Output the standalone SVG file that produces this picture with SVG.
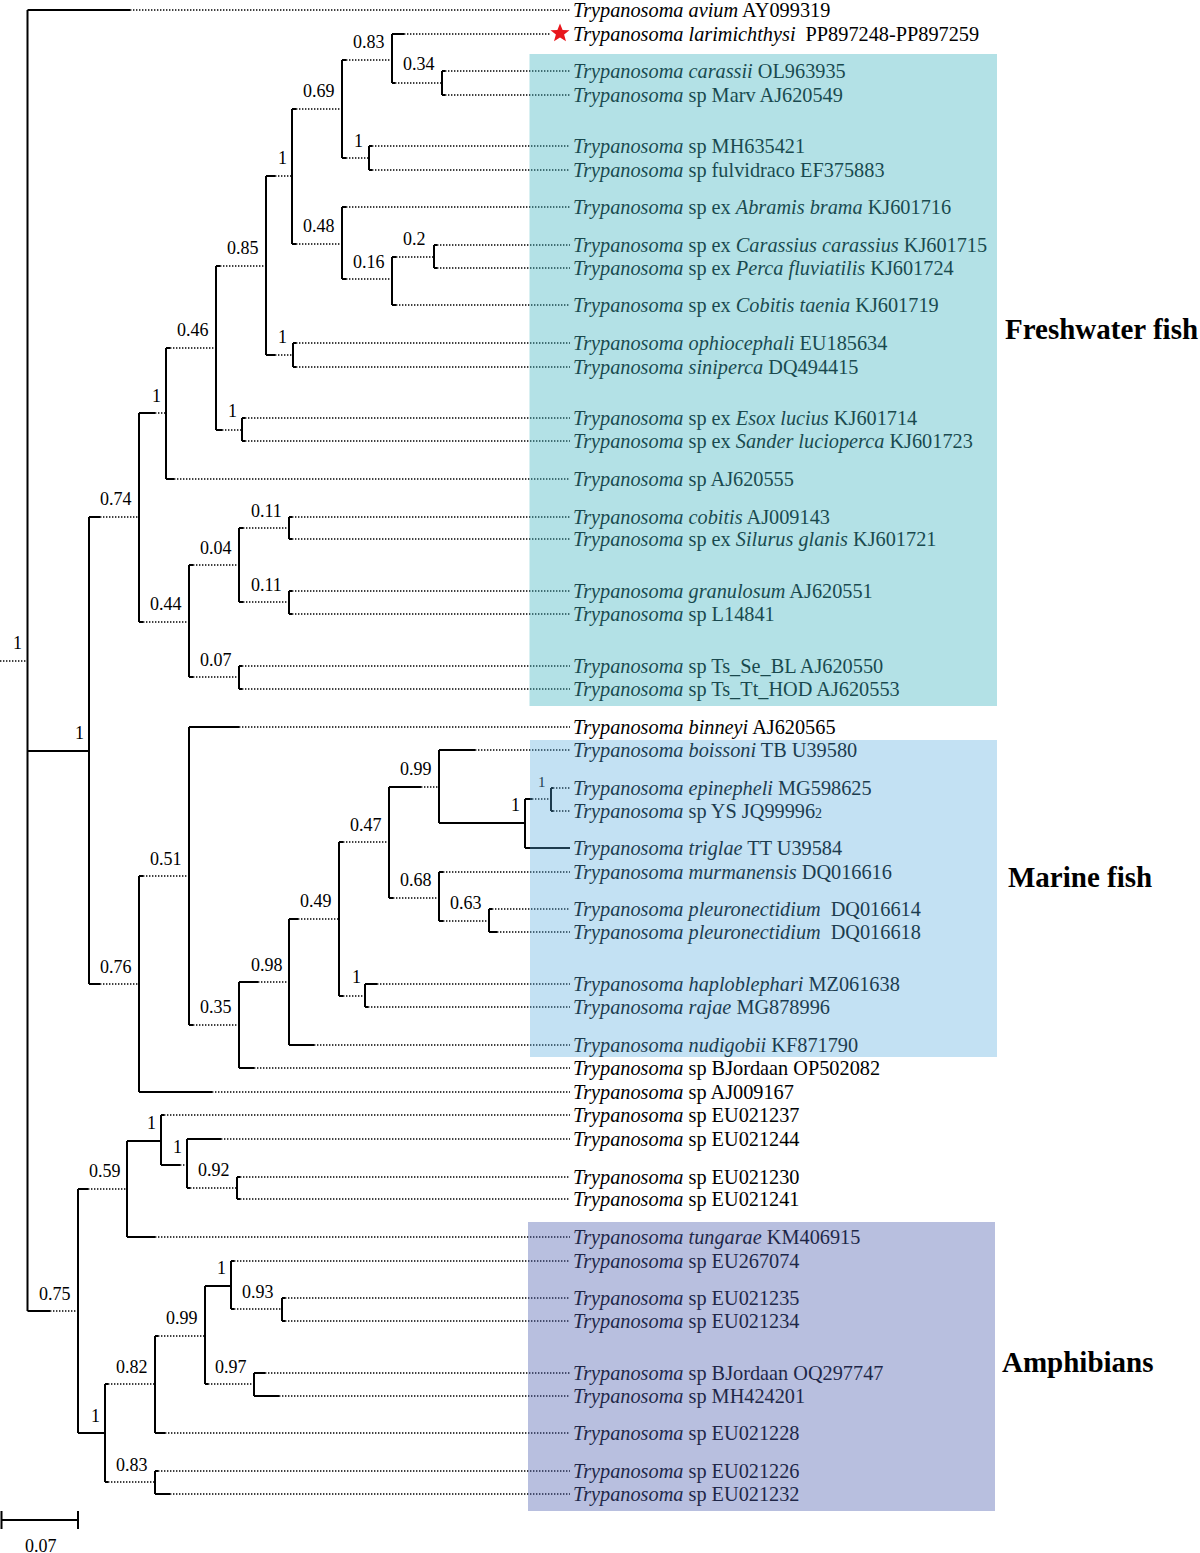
<svg xmlns="http://www.w3.org/2000/svg" width="1200" height="1553" viewBox="0 0 1200 1553">
<style>
text{font-family:"Liberation Serif","Times New Roman",serif;fill:#000}
.tip{font-size:20.3px}
.i{font-style:italic}
.sv{font-size:18px}
.grp{font-size:29px;font-weight:bold}
.v{stroke:#000;stroke-width:2;fill:none}
.s{stroke:#000;stroke-width:2;fill:none}
.d{stroke:#000;stroke-width:1.5;fill:none;stroke-dasharray:1.4 1.6}
</style>
<rect width="1200" height="1553" fill="#fff"/>
<g id="connectors">
<path class="v" d="M27.5 10V1311M89 517V984M139 413V622M166 348V479M216 266V430M266 176V355M292 109V244M342 60V158M392 34V83M442 71V95M369 146V170M342 207V279M392 257V305M434 245V268M293 343V367M242 418V441M189 565V677M239 528V602M289 517V539M289 591V614M239 666V689M139 876V1092M189 727V1025M239 982V1068M289 919V1045M339 842V996M365 984V1007M389 787V898M439 750V823M525 799V848M551 788V811M439 872V921M489 909V932M78 1189V1433M127 1141V1237M161 1115V1165M187 1139V1188M237 1177V1199M105 1384V1482M155 1336V1433M205 1286V1384M231 1261V1309M282 1298V1321M254 1373V1396M155 1471V1494"/>
<path class="s" d="M27.5 10H130M27.5 751H89M27.5 1311H50M89 517H100M89 984H100M139 413H155M139 622H143M166 348H170M166 479H174M216 266H220M216 430H222M266 176H275M266 355H275M293 343H296M293 367H296M242 418H245M242 441H245M292 109H296M292 244H296M342 60H346M342 158H346M392 34H404M392 83H395M442 71H445M442 95H445M369 146H372M369 170H372M342 207H346M342 279H346M392 257H396M392 305H396M434 245H437M434 268H437M189 565H193M189 677H193M239 528H243M239 602H243M289 517H292M289 539H292M289 591H292M289 614H292M239 666H242M239 689H242M139 876H143M139 1092H212M189 727H239M189 1025H193M239 982H258M239 1068H254M289 919H298M289 1045H314M339 842H343M339 996H343M365 984H377M365 1007H368M389 787H421M389 898H393M439 750H475M439 823H525M525 799H532M525 848H570M551 788H553M551 811H553M439 872H443M439 921H443M489 909H492M489 932H497M78 1189H88M78 1433H105M127 1141H161M127 1237H155M161 1115H164M161 1165H180M187 1139H221M187 1188H190M237 1177H240M237 1199H240M105 1384H108M105 1482H108M155 1336H158M155 1433H165M205 1286H231M205 1384H208M231 1261H234M231 1309H234M282 1298H285M282 1321H285M254 1373H265M254 1396H279M155 1471H158M155 1494H170"/>
<path class="d" d="M0 661H27.5M130 10H570M50 1311H78M100 517H139M100 984H139M155 413H166M143 622H189M170 348H216M174 479H570M220 266H266M222 430H242M275 176H292M275 355H293M296 343H570M296 367H570M245 418H570M245 441H570M296 109H342M296 244H342M346 60H392M346 158H369M404 34H551M395 83H442M445 71H570M445 95H570M372 146H570M372 170H570M346 207H570M346 279H392M396 257H434M396 305H570M437 245H570M437 268H570M193 565H239M193 677H239M243 528H289M243 602H289M292 517H570M292 539H570M292 591H570M292 614H570M242 666H570M242 689H570M143 876H189M212 1092H570M239 727H570M193 1025H239M258 982H289M254 1068H570M298 919H339M314 1045H570M343 842H389M343 996H365M377 984H570M368 1007H570M421 787H439M393 898H439M475 750H570M532 799H551M553 788H570M553 811H570M443 872H570M443 921H489M492 909H570M497 932H570M88 1189H127M155 1237H570M164 1115H570M180 1165H187M221 1139H570M190 1188H237M240 1177H570M240 1199H570M108 1384H155M108 1482H155M158 1336H205M165 1433H570M208 1384H254M234 1261H570M234 1309H282M285 1298H570M285 1321H570M265 1373H570M279 1396H570M158 1471H570M170 1494H570"/>
</g>
<g id="support">
<text class="sv" x="13" y="649">1</text>
<text class="sv" x="75" y="739">1</text>
<text class="sv" x="100" y="505">0.74</text>
<text class="sv" x="152" y="402">1</text>
<text class="sv" x="177" y="336">0.46</text>
<text class="sv" x="227" y="254">0.85</text>
<text class="sv" x="278" y="164">1</text>
<text class="sv" x="303" y="97">0.69</text>
<text class="sv" x="353" y="48">0.83</text>
<text class="sv" x="403" y="70">0.34</text>
<text class="sv" x="354" y="147">1</text>
<text class="sv" x="303" y="232">0.48</text>
<text class="sv" x="353" y="268">0.16</text>
<text class="sv" x="403" y="245">0.2</text>
<text class="sv" x="278" y="343">1</text>
<text class="sv" x="228" y="417">1</text>
<text class="sv" x="150" y="610">0.44</text>
<text class="sv" x="200" y="554">0.04</text>
<text class="sv" x="251" y="517">0.11</text>
<text class="sv" x="251" y="591">0.11</text>
<text class="sv" x="200" y="666">0.07</text>
<text class="sv" x="100" y="973">0.76</text>
<text class="sv" x="150" y="865">0.51</text>
<text class="sv" x="200" y="1013">0.35</text>
<text class="sv" x="251" y="971">0.98</text>
<text class="sv" x="300" y="907">0.49</text>
<text class="sv" x="352" y="983">1</text>
<text class="sv" x="350" y="831">0.47</text>
<text class="sv" x="400" y="775">0.99</text>
<text class="sv" x="511" y="811">1</text>
<text class="sv" x="538" y="787" style="font-size:15px">1</text>
<text class="sv" x="400" y="886">0.68</text>
<text class="sv" x="450" y="909">0.63</text>
<text class="sv" x="39" y="1300">0.75</text>
<text class="sv" x="89" y="1177">0.59</text>
<text class="sv" x="147" y="1129">1</text>
<text class="sv" x="173" y="1153">1</text>
<text class="sv" x="198" y="1176">0.92</text>
<text class="sv" x="91" y="1422">1</text>
<text class="sv" x="116" y="1373">0.82</text>
<text class="sv" x="166" y="1324">0.99</text>
<text class="sv" x="217" y="1274">1</text>
<text class="sv" x="242" y="1298">0.93</text>
<text class="sv" x="215" y="1373">0.97</text>
<text class="sv" x="116" y="1471">0.83</text>
</g>
<g id="tips">
<g id="t1"><text class="tip" x="573" y="17"><tspan class="i">Trypanosoma avium</tspan> AY099319</text></g>
<g id="t2"><polygon fill="#e8161c" points="560,23.5 562.6,30 569.5,30.3 564.1,34.6 566,41.3 560,37.5 554,41.3 555.9,34.6 550.5,30.3 557.4,30"/><text class="tip" x="573" y="41"><tspan class="i">Trypanosoma larimichthysi</tspan><tspan dx="10">PP897248-PP897259</tspan></text></g>
<g id="t3"><text class="tip" x="573" y="78"><tspan class="i">Trypanosoma carassii</tspan> OL963935</text></g>
<g id="t4"><text class="tip" x="573" y="102"><tspan class="i">Trypanosoma</tspan> sp Marv AJ620549</text></g>
<g id="t5"><text class="tip" x="573" y="153"><tspan class="i">Trypanosoma</tspan> sp MH635421</text></g>
<g id="t6"><text class="tip" x="573" y="177"><tspan class="i">Trypanosoma</tspan> sp fulvidraco EF375883</text></g>
<g id="t7"><text class="tip" x="573" y="214"><tspan class="i">Trypanosoma</tspan> sp ex <tspan class="i">Abramis brama</tspan> KJ601716</text></g>
<g id="t8"><text class="tip" x="573" y="252"><tspan class="i">Trypanosoma</tspan> sp ex <tspan class="i">Carassius carassius</tspan> KJ601715</text></g>
<g id="t9"><text class="tip" x="573" y="275"><tspan class="i">Trypanosoma</tspan> sp ex <tspan class="i">Perca fluviatilis</tspan> KJ601724</text></g>
<g id="t10"><text class="tip" x="573" y="312"><tspan class="i">Trypanosoma</tspan> sp ex <tspan class="i">Cobitis taenia</tspan> KJ601719</text></g>
<g id="t11"><text class="tip" x="573" y="350"><tspan class="i">Trypanosoma ophiocephali</tspan> EU185634</text></g>
<g id="t12"><text class="tip" x="573" y="374"><tspan class="i">Trypanosoma siniperca</tspan> DQ494415</text></g>
<g id="t13"><text class="tip" x="573" y="425"><tspan class="i">Trypanosoma</tspan> sp ex <tspan class="i">Esox lucius</tspan> KJ601714</text></g>
<g id="t14"><text class="tip" x="573" y="448"><tspan class="i">Trypanosoma</tspan> sp ex <tspan class="i">Sander lucioperca</tspan> KJ601723</text></g>
<g id="t15"><text class="tip" x="573" y="486"><tspan class="i">Trypanosoma</tspan> sp AJ620555</text></g>
<g id="t16"><text class="tip" x="573" y="524"><tspan class="i">Trypanosoma cobitis</tspan> AJ009143</text></g>
<g id="t17"><text class="tip" x="573" y="546"><tspan class="i">Trypanosoma</tspan> sp ex <tspan class="i">Silurus glanis</tspan> KJ601721</text></g>
<g id="t18"><text class="tip" x="573" y="598"><tspan class="i">Trypanosoma granulosum</tspan> AJ620551</text></g>
<g id="t19"><text class="tip" x="573" y="621"><tspan class="i">Trypanosoma</tspan> sp L14841</text></g>
<g id="t20"><text class="tip" x="573" y="673"><tspan class="i">Trypanosoma</tspan> sp Ts_Se_BL AJ620550</text></g>
<g id="t21"><text class="tip" x="573" y="696"><tspan class="i">Trypanosoma</tspan> sp Ts_Tt_HOD AJ620553</text></g>
<g id="t22"><text class="tip" x="573" y="734"><tspan class="i">Trypanosoma binneyi</tspan> AJ620565</text></g>
<g id="t23"><text class="tip" x="573" y="757"><tspan class="i">Trypanosoma boissoni</tspan> TB U39580</text></g>
<g id="t24"><text class="tip" x="573" y="795"><tspan class="i">Trypanosoma epinepheli</tspan> MG598625</text></g>
<g id="t25"><text class="tip" x="573" y="818"><tspan class="i">Trypanosoma</tspan> sp YS JQ99996<tspan style="font-size:14px">2</tspan></text></g>
<g id="t26"><text class="tip" x="573" y="855"><tspan class="i">Trypanosoma triglae</tspan> TT U39584</text></g>
<g id="t27"><text class="tip" x="573" y="879"><tspan class="i">Trypanosoma murmanensis</tspan> DQ016616</text></g>
<g id="t28"><text class="tip" x="573" y="916"><tspan class="i">Trypanosoma pleuronectidium</tspan><tspan dx="10">DQ016614</tspan></text></g>
<g id="t29"><text class="tip" x="573" y="939"><tspan class="i">Trypanosoma pleuronectidium</tspan><tspan dx="10">DQ016618</tspan></text></g>
<g id="t30"><text class="tip" x="573" y="991"><tspan class="i">Trypanosoma haploblephari</tspan> MZ061638</text></g>
<g id="t31"><text class="tip" x="573" y="1014"><tspan class="i">Trypanosoma rajae</tspan> MG878996</text></g>
<g id="t32"><text class="tip" x="573" y="1052"><tspan class="i">Trypanosoma nudigobii</tspan> KF871790</text></g>
<g id="t33"><text class="tip" x="573" y="1075"><tspan class="i">Trypanosoma</tspan> sp BJordaan OP502082</text></g>
<g id="t34"><text class="tip" x="573" y="1099"><tspan class="i">Trypanosoma</tspan> sp AJ009167</text></g>
<g id="t35"><text class="tip" x="573" y="1122"><tspan class="i">Trypanosoma</tspan> sp EU021237</text></g>
<g id="t36"><text class="tip" x="573" y="1146"><tspan class="i">Trypanosoma</tspan> sp EU021244</text></g>
<g id="t37"><text class="tip" x="573" y="1184"><tspan class="i">Trypanosoma</tspan> sp EU021230</text></g>
<g id="t38"><text class="tip" x="573" y="1206"><tspan class="i">Trypanosoma</tspan> sp EU021241</text></g>
<g id="t39"><text class="tip" x="573" y="1244"><tspan class="i">Trypanosoma tungarae</tspan> KM406915</text></g>
<g id="t40"><text class="tip" x="573" y="1268"><tspan class="i">Trypanosoma</tspan> sp EU267074</text></g>
<g id="t41"><text class="tip" x="573" y="1305"><tspan class="i">Trypanosoma</tspan> sp EU021235</text></g>
<g id="t42"><text class="tip" x="573" y="1328"><tspan class="i">Trypanosoma</tspan> sp EU021234</text></g>
<g id="t43"><text class="tip" x="573" y="1380"><tspan class="i">Trypanosoma</tspan> sp BJordaan OQ297747</text></g>
<g id="t44"><text class="tip" x="573" y="1403"><tspan class="i">Trypanosoma</tspan> sp MH424201</text></g>
<g id="t45"><text class="tip" x="573" y="1440"><tspan class="i">Trypanosoma</tspan> sp EU021228</text></g>
<g id="t46"><text class="tip" x="573" y="1478"><tspan class="i">Trypanosoma</tspan> sp EU021226</text></g>
<g id="t47"><text class="tip" x="573" y="1501"><tspan class="i">Trypanosoma</tspan> sp EU021232</text></g>
</g>
<g id="clades">
<rect id="box-freshwater" x="529.5" y="54" width="467.5" height="652" fill="rgb(65,180,192)" fill-opacity="0.4"/>
<rect id="box-marine" x="530" y="740" width="467" height="317" fill="rgb(84,169,220)" fill-opacity="0.35"/>
<rect id="box-amphibians" x="528" y="1222" width="467" height="289" fill="rgb(78,95,175)" fill-opacity="0.4"/>
<text class="grp" x="1005" y="339">Freshwater fish</text>
<text class="grp" x="1008" y="887">Marine fish</text>
<text class="grp" x="1002" y="1372">Amphibians</text>
</g>
<g id="scale">
<path class="s" d="M1.5 1520H78M1.5 1511V1529M78 1511V1529"/>
<text class="sv" x="25" y="1552">0.07</text>
</g>
</svg>
